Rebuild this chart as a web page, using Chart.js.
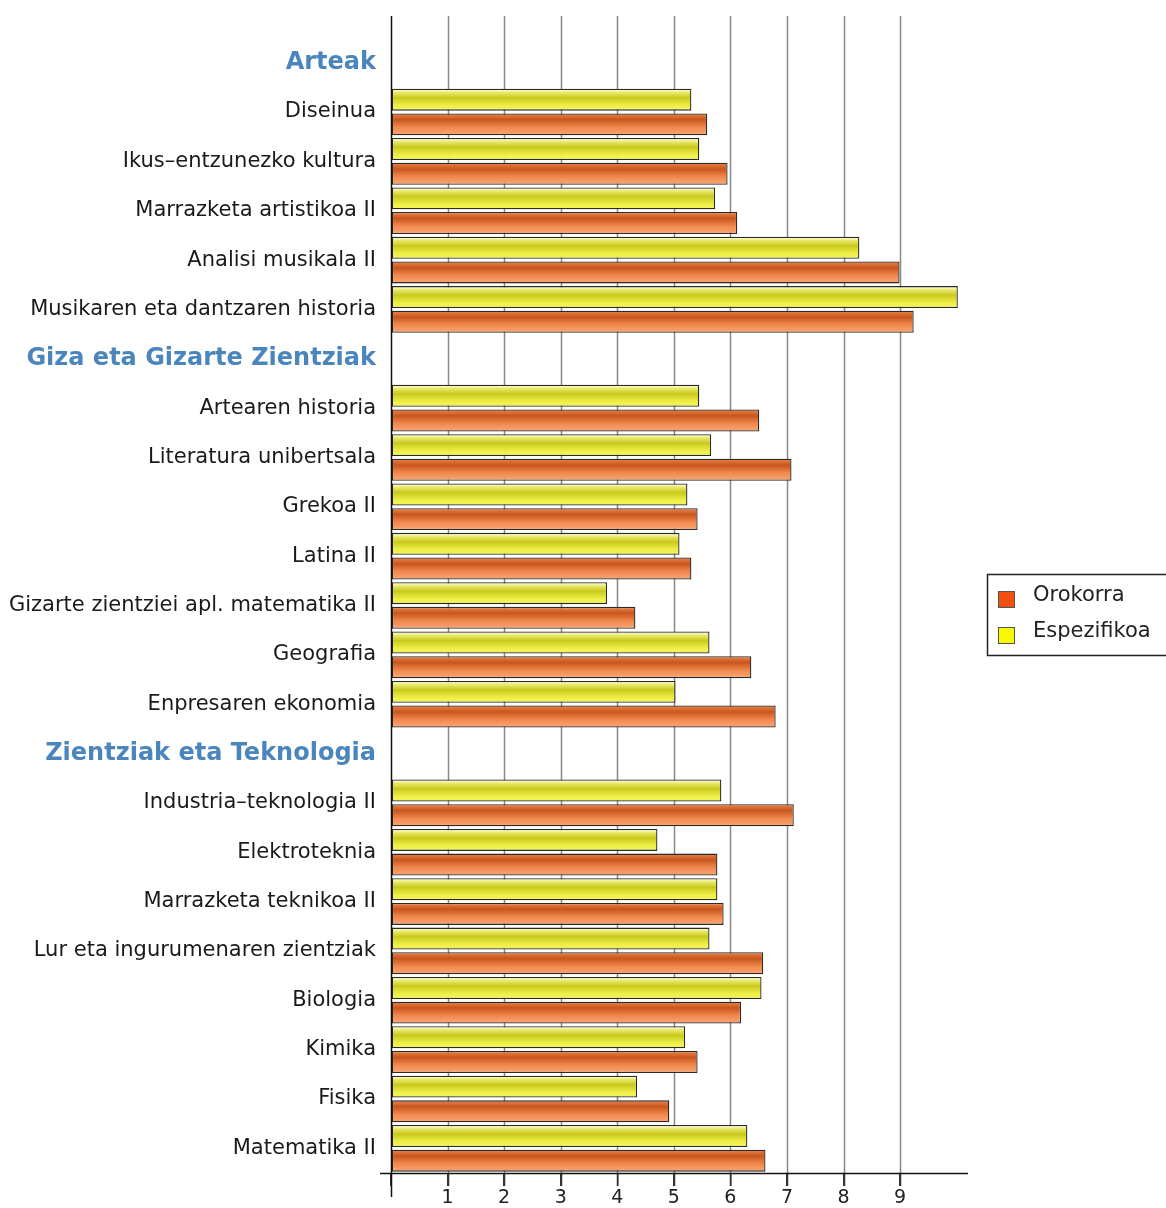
<!DOCTYPE html>
<html>
<head>
<meta charset="utf-8">
<script src="https://cdn.jsdelivr.net/npm/chart.js@4"></script>
<style>
  body { margin: 0; background: #fff; }
  #wrap { width: 1166px; height: 1208px; position: relative; }
</style>
</head>
<body>
<div id="wrap"><canvas id="notakChart"></canvas></div>
<script>
// taldeen izenburuak (barrarik gabe) eta ikasgaiak
var categories = [
  'Arteak',
  'Diseinua',
  'Ikus\u2013entzunezko kultura',
  'Marrazketa artistikoa II',
  'Analisi musikala II',
  'Musikaren eta dantzaren historia',
  'Giza eta Gizarte Zientziak',
  'Artearen historia',
  'Literatura unibertsala',
  'Grekoa II',
  'Latina II',
  'Gizarte zientziei apl. matematika II',
  'Geografia',
  'Enpresaren ekonomia',
  'Zientziak eta Teknologia',
  'Industria\u2013teknologia II',
  'Elektroteknia',
  'Marrazketa teknikoa II',
  'Lur eta ingurumenaren zientziak',
  'Biologia',
  'Kimika',
  'Fisika',
  'Matematika II'
];
var headerRows = [0, 6, 14];

var orokorra = [null, 5.59, 5.95, 6.12, 8.99, 9.24,
  null, 6.51, 7.08, 5.42, 5.31, 4.32, 6.37, 6.80,
  null, 7.12, 5.77, 5.88, 6.58, 6.19, 5.42, 4.92, 6.62];
var espezifikoa = [null, 5.31, 5.45, 5.73, 8.28, 10.02,
  null, 5.45, 5.66, 5.24, 5.10, 3.82, 5.63, 5.03,
  null, 5.84, 4.71, 5.77, 5.63, 6.55, 5.20, 4.35, 6.30];

var xTicks = [0, 1, 2, 3, 4, 5, 6, 7, 8, 9];

var BAR_PCT = 0.89;

function barGradient(c, stops, fallback) {
  var chart = c.chart;
  var y = chart.scales.y;
  if (!chart.chartArea || !y || c.dataIndex === undefined) return fallback;
  var p = y.getPixelForValue(c.dataIndex);
  var half = Math.abs(y.getPixelForValue(1) - y.getPixelForValue(0)) * BAR_PCT / 2;
  var top = c.datasetIndex === 0 ? p - half : p;
  var g = chart.ctx.createLinearGradient(0, top, 0, top + half);
  stops.forEach(function(s) { g.addColorStop(s[0], s[1]); });
  return g;
}

var yellowStops = [[0, '#fbfbc8'], [0.1, '#eaea70'], [0.35, '#c9c91c'], [0.7, '#eeee48'], [1, '#f7f766']];
var orangeStops = [[0, '#fcd2b4'], [0.1, '#e97f46'], [0.35, '#c8561c'], [0.7, '#f0884e'], [1, '#f9a26c']];

// sareta goitik behera, ardatzak eta legenda
var axisExtras = {
  id: 'axisExtras',
  beforeDatasetsDraw: function(chart) {
    var ctx = chart.ctx, area = chart.chartArea, x = chart.scales.x;
    ctx.save();
    ctx.strokeStyle = '#888';
    ctx.lineWidth = 1.5;
    xTicks.forEach(function(v) {
      if (v === 0) return;
      var px = Math.round(x.getPixelForValue(v)) + 0.5;
      ctx.beginPath();
      ctx.moveTo(px, 16);
      ctx.lineTo(px, area.bottom);
      ctx.stroke();
    });
    ctx.restore();
  },
  afterDatasetsDraw: function(chart) {
    var ctx = chart.ctx, area = chart.chartArea, x = chart.scales.x;
    ctx.save();
    ctx.strokeStyle = '#333';
    ctx.lineWidth = 1.5;
    xTicks.forEach(function(v) {
      if (v === 0) return;
      var px = Math.round(x.getPixelForValue(v)) + 0.5;
      ctx.beginPath();
      ctx.moveTo(px, area.bottom);
      ctx.lineTo(px, area.bottom + 13);
      ctx.stroke();
    });
    ctx.strokeStyle = '#111';
    var x0 = Math.round(x.getPixelForValue(0)) + 0.5;
    ctx.beginPath();
    ctx.moveTo(x0, 16);
    ctx.lineTo(x0, 1197);
    ctx.stroke();
    ctx.beginPath();
    ctx.moveTo(380, area.bottom + 0.5);
    ctx.lineTo(area.right, area.bottom + 0.5);
    ctx.stroke();
    ctx.restore();
  },
  afterDraw: function(chart) {
    var ctx = chart.ctx;
    var items = [
      { label: chart.data.datasets[1].label, color: '#f05010' },
      { label: chart.data.datasets[0].label, color: '#f8f800' }
    ];
    ctx.save();
    ctx.strokeStyle = '#222';
    ctx.lineWidth = 1.5;
    ctx.strokeRect(987.5, 574.5, 190, 81);
    ctx.font = '21px "DejaVu Sans"';
    ctx.textBaseline = 'middle';
    items.forEach(function(it, i) {
      var cy = 599 + i * 36;
      ctx.fillStyle = it.color;
      ctx.fillRect(998, cy - 8, 16, 16);
      ctx.strokeStyle = '#555';
      ctx.lineWidth = 1;
      ctx.strokeRect(998.5, cy - 7.5, 16, 16);
      ctx.fillStyle = '#222';
      ctx.fillText(it.label, 1033, cy - 3);
    });
    ctx.restore();
  }
};

var ctx = document.getElementById('notakChart').getContext('2d');
var notakChart = new Chart(ctx, {
  type: 'bar',
  data: {
    labels: categories,
    datasets: [{
      label: 'Espezifikoa',
      data: espezifikoa,
      backgroundColor: function(c) { return barGradient(c, yellowStops, '#eeee40'); },
      borderColor: '#2a2a2a',
      borderWidth: 1.3,
      borderSkipped: false
    },
    {
      label: 'Orokorra',
      data: orokorra,
      backgroundColor: function(c) { return barGradient(c, orangeStops, '#ee7a40'); },
      borderColor: '#2a2a2a',
      borderWidth: 1.3,
      borderSkipped: false
    }]
  },
  options: {
    indexAxis: 'y',
    responsive: true,
    maintainAspectRatio: false,
    animation: false,
    barPercentage: BAR_PCT,
    categoryPercentage: 1,
    layout: {
      padding: { top: 38, right: 198, bottom: 0, left: 0 }
    },
    scales: {
      x: {
        min: 0,
        max: 10.2,
        afterBuildTicks: function(scale) {
          scale.ticks = xTicks.map(function(v) { return { value: v }; });
        },
        afterFit: function(scale) { scale.height = 35; },
        border: { display: false },
        grid: {
          drawOnChartArea: false,
          color: '#888',
          lineWidth: 1.5,
          tickLength: 13,
          tickColor: '#333'
        },
        ticks: {
          padding: 1,
          color: '#222',
          font: { family: '"DejaVu Sans"', size: 19 },
          callback: function(v) { return v === 0 ? '' : v; }
        }
      },
      y: {
        afterFit: function(scale) { scale.width = 391; },
        border: { display: false },
        grid: { display: false, drawTicks: false },
        ticks: {
          autoSkip: false,
          padding: 15,
          color: function(c) {
            return headerRows.indexOf(c.index) >= 0 ? '#4a86bd' : '#1a1a1a';
          },
          font: function(c) {
            if (headerRows.indexOf(c.index) >= 0) {
              return { family: '"DejaVu Sans"', size: 24, weight: 'bold' };
            }
            return { family: '"DejaVu Sans"', size: 21 };
          }
        }
      }
    },
    plugins: {
      legend: { display: false },
      tooltip: { enabled: false }
    }
  },
  plugins: [axisExtras]
});
notakChart.update();
</script>
</body>
</html>
